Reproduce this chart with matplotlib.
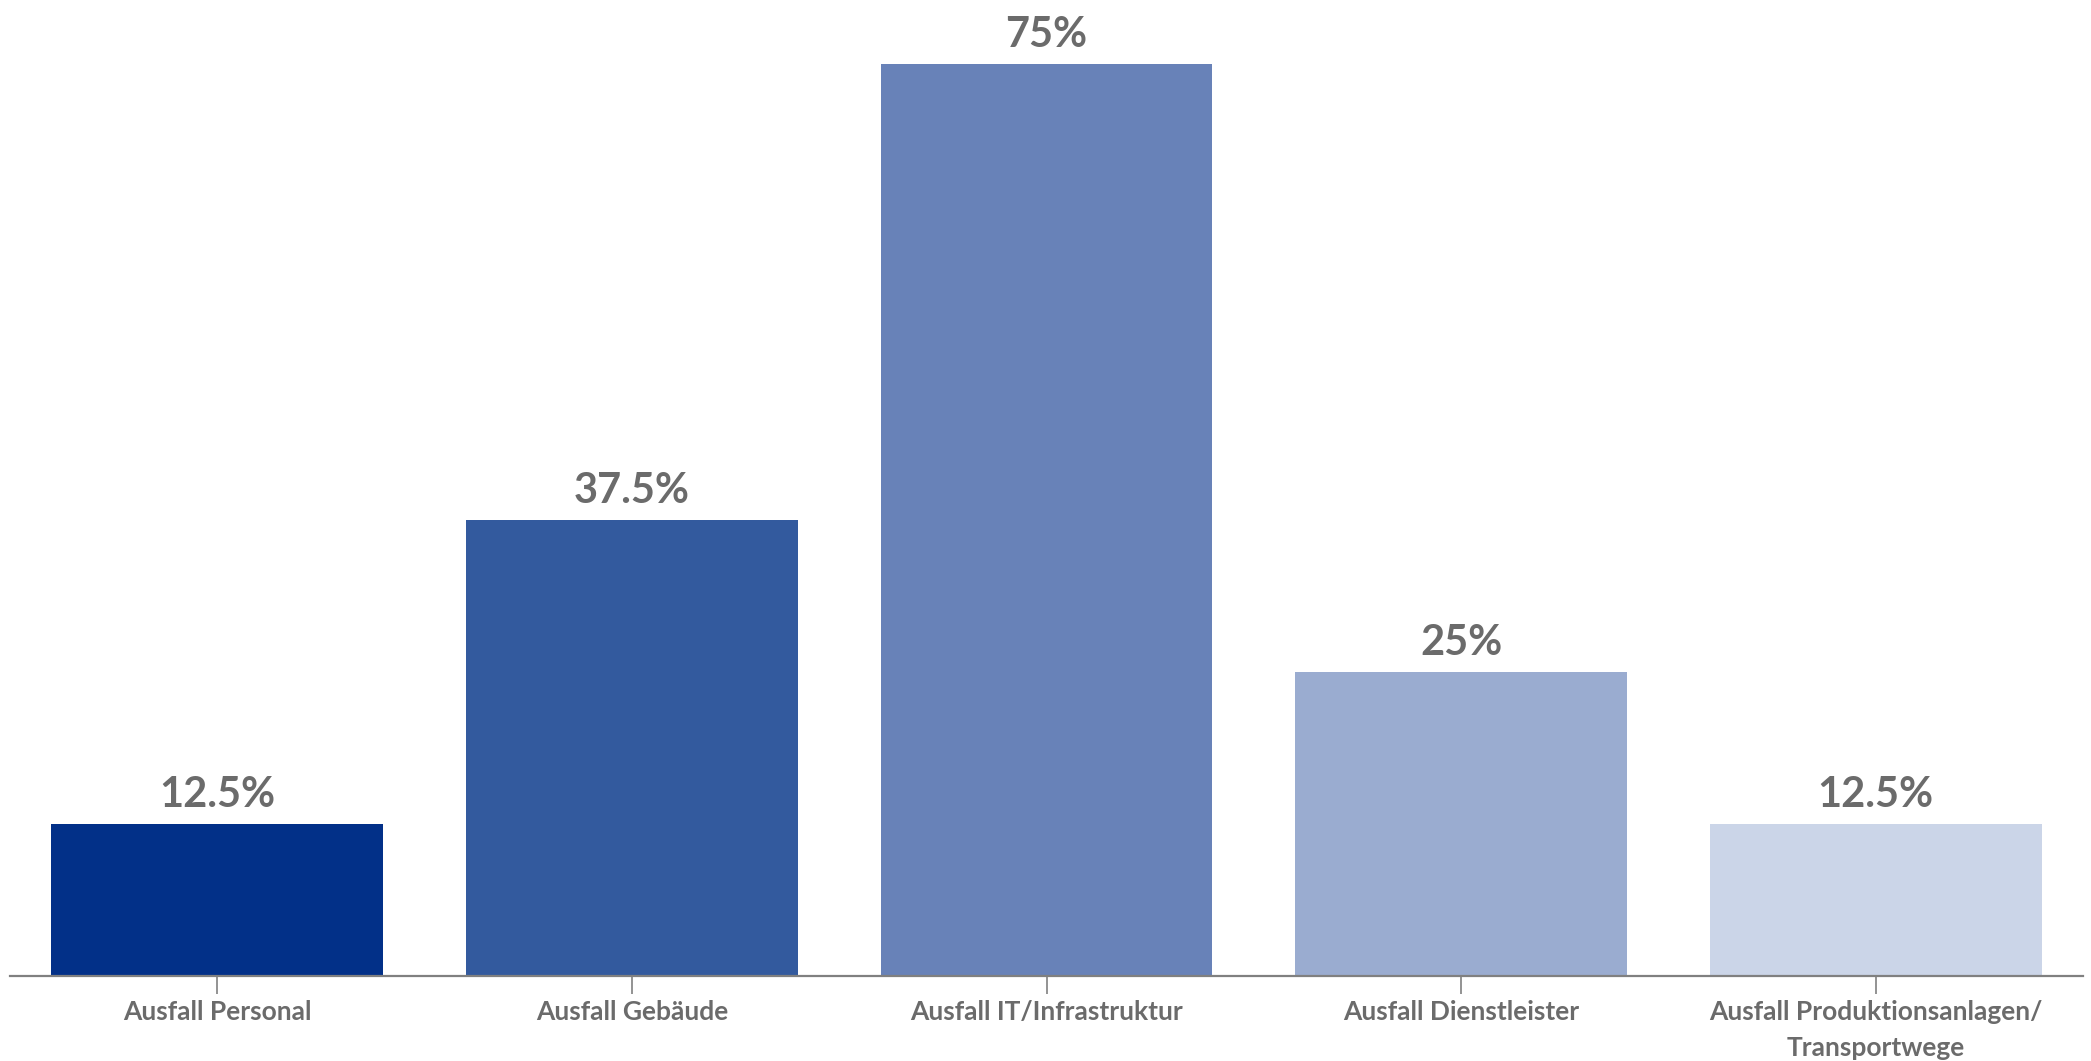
import matplotlib
matplotlib.use("Agg")
import matplotlib.pyplot as plt

categories = ["Ausfall Personal", "Ausfall Gebäude", "Ausfall IT/Infrastruktur",
              "Ausfall Dienstleister", "Ausfall Produktionsanlagen/\nTransportwege"]
values = [12.5, 37.5, 75, 25, 12.5]
value_labels = ["12.5%", "37.5%", "75%", "25%", "12.5%"]
colors = ["#023088", "#335A9E", "#6882B8", "#9AACD0", "#CBD5E8"]

plt.rcParams['font.family'] = ['Lato', 'DejaVu Sans']
W, H = 2091, 1061
fig = plt.figure(figsize=(W / 100, H / 100), dpi=100)
ax_left, ax_right = 10, 2083
ax_top, ax_bottom = 64, 976
ax = fig.add_axes([ax_left / W, (H - ax_bottom) / H, (ax_right - ax_left) / W, (ax_bottom - ax_top) / H])

x = list(range(len(categories)))
bars = ax.bar(x, values, width=0.80, color=colors)
ax.set_xlim(-0.5, len(categories) - 0.5)
ax.set_ylim(0, 75)

gray = "#6b6b6b"
for b, lab in zip(bars, value_labels):
    ax.annotate(lab, (b.get_x() + b.get_width() / 2, b.get_height()),
                xytext=(0, 7), textcoords="offset points", ha="center", va="bottom",
                fontsize=30, fontweight="bold", color=gray, annotation_clip=False)

ax.set_xticks(x)
ax.set_xticklabels(categories, fontsize=19, fontweight="bold", color=gray, linespacing=1.6)
ax.tick_params(axis="x", length=13, width=1.2, color="#808080", pad=4)
ax.set_yticks([])
for s in ["top", "right", "left"]:
    ax.spines[s].set_visible(False)
ax.spines["bottom"].set_color("#808080")
ax.spines["bottom"].set_linewidth(1.6)

fig.savefig("out.png", dpi=100)
